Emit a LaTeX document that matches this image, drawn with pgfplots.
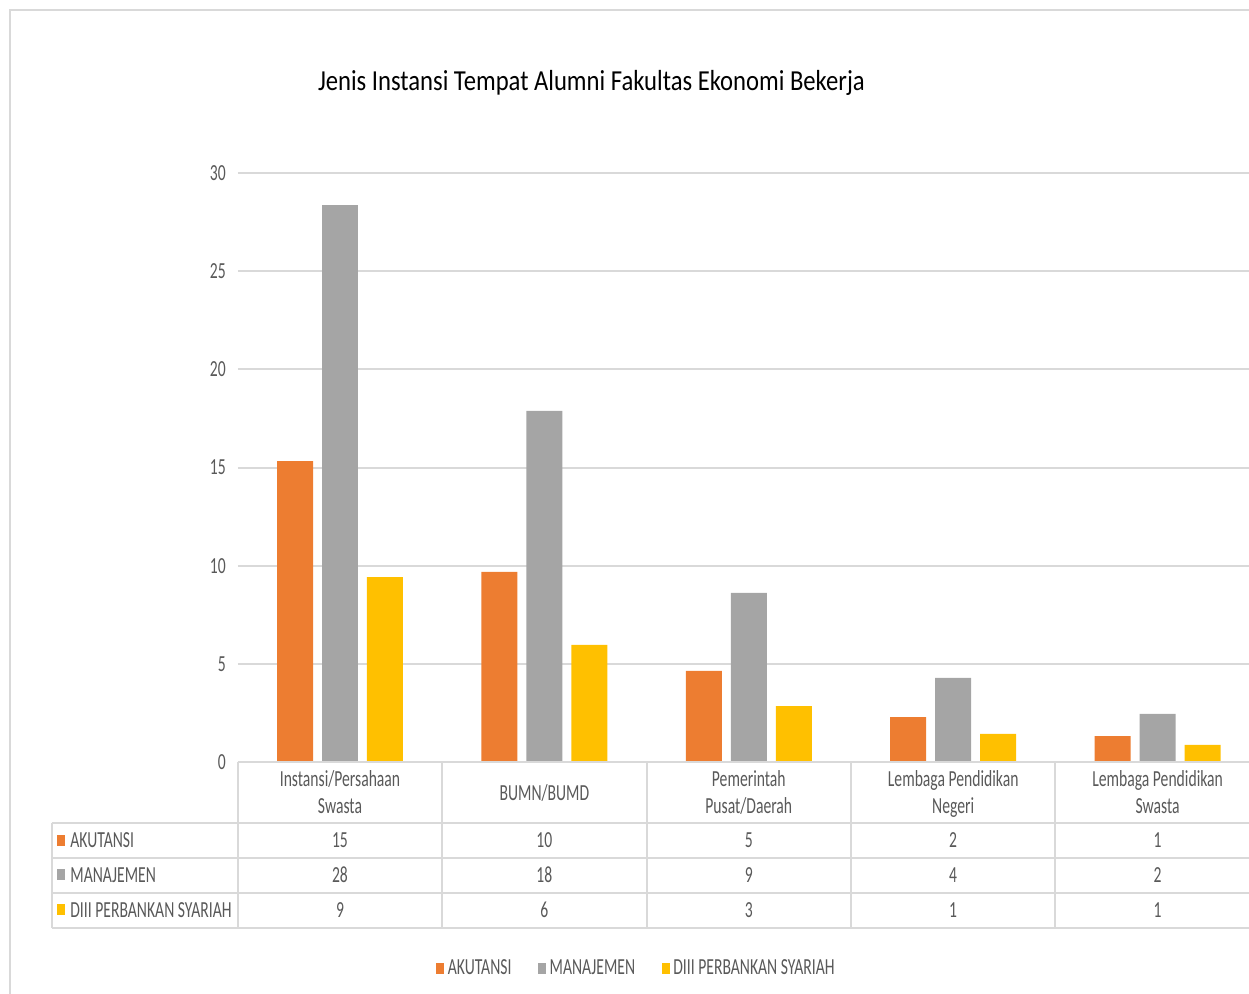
\documentclass[border=0pt]{standalone}
\usepackage{pgfplots}
\pgfplotsset{compat=1.18}
\usepackage{fontspec}
\setmainfont{Carlito}[FakeStretch=0.68]
\newfontfamily\titlefont{Carlito}[FakeStretch=0.85]
\definecolor{cOr}{HTML}{ED7D31}
\definecolor{cGr}{HTML}{A5A5A5}
\definecolor{cYe}{HTML}{FFC000}
\definecolor{cGrid}{HTML}{D9D9D9}
\definecolor{cTxt}{HTML}{595959}
\begin{document}
\begin{tikzpicture}
\begin{axis}[
  scale only axis,
  width=505.9pt, height=294.45pt,
  xmin=-0.5, xmax=4.45, ymin=0, ymax=30,
  clip=false,
  ybar, bar width=0.176,
  axis line style={draw=none},
  xtick=\empty,
  ytick={0,5,...,30},
  major tick length=0pt,
  ymajorgrids, grid style={cGrid, line width=1pt},
  yticklabel style={font=\fontsize{11.5}{13}\selectfont, text=cTxt, xshift=-2.5pt},
  /pgf/number format/assume math mode=true,
  legend columns=3,
  legend style={at={(axis cs:1.453,-10.54)}, anchor=center, draw=none, fill=none,
    font=\fontsize{11.5}{13}\selectfont\color{cTxt},
    nodes={inner sep=1.7pt},
    /tikz/every even column/.append style={column sep=11.5pt}},
  legend image code/.code={\fill[#1] (0pt,-2.75pt) rectangle (4.2pt,2.75pt);},
]
\addplot[fill=cOr, draw=none, bar shift=-0.22] coordinates {(0,15.33) (1,9.68) (2,4.64) (3,2.29) (4,1.32)};
\addplot[fill=cGr, draw=none, bar shift=0] coordinates {(0,28.37) (1,17.88) (2,8.61) (3,4.28) (4,2.45)};
\addplot[fill=cYe, draw=none, bar shift=0.22] coordinates {(0,9.42) (1,5.96) (2,2.85) (3,1.43) (4,0.87)};
\legend{AKUTANSI, MANAJEMEN, DIII PERBANKAN SYARIAH}

% data table grid
\draw[cGrid, line width=1pt] (axis cs:-0.5,0) -- (axis cs:4.45,0);
\draw[cGrid, line width=1pt] (axis cs:-1.41,-3.11) -- (axis cs:4.45,-3.11);
\draw[cGrid, line width=1pt] (axis cs:-1.41,-4.89) -- (axis cs:4.45,-4.89);
\draw[cGrid, line width=1pt] (axis cs:-1.41,-6.67) -- (axis cs:4.45,-6.67);
\draw[cGrid, line width=1pt] (axis cs:-1.41,-8.46) -- (axis cs:4.45,-8.46);
\draw[cGrid, line width=1pt] (axis cs:-1.41,-3.11) -- (axis cs:-1.41,-8.46);
\draw[cGrid, line width=1pt] (axis cs:-0.5,0) -- (axis cs:-0.5,-8.46);
\draw[cGrid, line width=1pt] (axis cs:0.5,0) -- (axis cs:0.5,-8.46);
\draw[cGrid, line width=1pt] (axis cs:1.5,0) -- (axis cs:1.5,-8.46);
\draw[cGrid, line width=1pt] (axis cs:2.5,0) -- (axis cs:2.5,-8.46);
\draw[cGrid, line width=1pt] (axis cs:3.5,0) -- (axis cs:3.5,-8.46);
% category labels
\begin{scope}[every node/.style={font=\fontsize{11.5}{13.5}\selectfont, text=cTxt, align=center}]
\node at (axis cs:0,-1.68) {\strut Instansi/Persahaan\\\strut Swasta};
\node at (axis cs:1,-1.68) {\strut BUMN/BUMD};
\node at (axis cs:2,-1.68) {\strut Pemerintah\\\strut Pusat/Daerah};
\node at (axis cs:3,-1.68) {\strut Lembaga Pendidikan\\\strut Negeri};
\node at (axis cs:4,-1.68) {\strut Lembaga Pendidikan\\\strut Swasta};
\node at (axis cs:0,-3.97) {15};
\node at (axis cs:1,-3.97) {10};
\node at (axis cs:2,-3.97) {5};
\node at (axis cs:3,-3.97) {2};
\node at (axis cs:4,-3.97) {1};
\node at (axis cs:0,-5.76) {28};
\node at (axis cs:1,-5.76) {18};
\node at (axis cs:2,-5.76) {9};
\node at (axis cs:3,-5.76) {4};
\node at (axis cs:4,-5.76) {2};
\node at (axis cs:0,-7.54) {9};
\node at (axis cs:1,-7.54) {6};
\node at (axis cs:2,-7.54) {3};
\node at (axis cs:3,-7.54) {1};
\node at (axis cs:4,-7.54) {1};
\end{scope}
\fill[cOr] (axis cs:-1.3845,-3.719) rectangle (axis cs:-1.3454,-4.279);
\fill[cGr] (axis cs:-1.3845,-5.476) rectangle (axis cs:-1.3454,-6.037);
\fill[cYe] (axis cs:-1.3845,-7.259) rectangle (axis cs:-1.3454,-7.819);
\begin{scope}[every node/.style={font=\fontsize{11.5}{13}\selectfont, text=cTxt, anchor=west, inner sep=0pt}]
\node at (axis cs:-1.321,-3.97) {AKUTANSI};
\node at (axis cs:-1.321,-5.76) {MANAJEMEN};
\node at (axis cs:-1.321,-7.54) {DIII PERBANKAN SYARIAH};
\end{scope}
% title
\node[font=\titlefont\fontsize{14.5}{16}\selectfont, text=black] at (axis cs:1.230,34.59) {Jenis Instansi Tempat Alumni Fakultas Ekonomi Bekerja};
% chart frame
\draw[cGrid, line width=0.9pt] (axis cs:-1.614,-11.82) -- (axis cs:-1.614,38.31) -- (axis cs:4.4472,38.31);
\coordinate (tl) at (axis cs:-1.6634,38.818);
\coordinate (br) at (axis cs:4.4472,-11.819);
\end{axis}
\pgfresetboundingbox
\path[use as bounding box] (tl) rectangle (br);
\end{tikzpicture}
\end{document}
